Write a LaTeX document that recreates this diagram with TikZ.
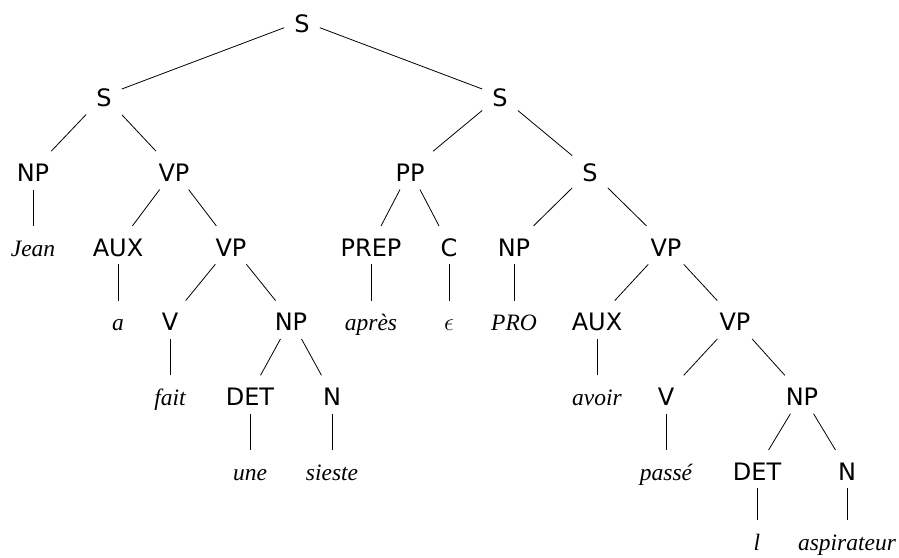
\documentclass[tikz,border=0pt]{standalone}
\usepackage{fontspec}
\setmainfont{Liberation Serif}
\newfontfamily\labfont{DejaVu Sans}
\begin{document}
\begin{tikzpicture}[x=1pt,y=-1pt,
  tn/.style={anchor=base, inner xsep=10pt, inner ysep=2pt, text height=28pt, text depth=6pt},
  cat/.style={tn, font=\labfont\fontsize{24}{28}\selectfont},
  word/.style={tn, font=\itshape\fontsize{23.5}{28}\selectfont},
  edge/.style={line width=0.8pt}]
\useasboundingbox (0,0) rectangle (899,557);
% level 0
\node[cat] (s0) at (302,32) {S};
% level 1
\node[cat] (s1) at (104,106.7) {S};
\node[cat] (s2) at (500,106.7) {S};
% level 2
\node[cat] (np1) at (33,181.4) {NP};
\node[cat] (vp1) at (174,181.4) {VP};
\node[cat] (pp) at (410,181.4) {PP};
\node[cat] (s3) at (590,181.4) {S};
% level 3
\node[word] (jean) at (33,256.1) {Jean};
\node[cat] (aux1) at (118,256.1) {AUX};
\node[cat] (vp2) at (231,256.1) {VP};
\node[cat] (prep) at (371,256.1) {PREP};
\node[cat] (c) at (449,256.1) {C};
\node[cat] (np3) at (514,256.1) {NP};
\node[cat] (vp3) at (666,256.1) {VP};
% level 4
\node[word] (a) at (118,330.8) {a};
\node[cat] (v1) at (170,330.8) {V};
\node[cat] (np2) at (291,330.8) {NP};
\node[word] (apres) at (371,330.8) {après};
\node[tn, font=\fontsize{23}{28}\selectfont] (eps) at (449,330.8) {$\epsilon$};
\node[word] (pro) at (514,330.8) {PRO};
\node[cat] (aux2) at (597,330.8) {AUX};
\node[cat] (vp4) at (735,330.8) {VP};
% level 5
\node[word] (fait) at (170,405.5) {fait};
\node[cat] (det1) at (250,405.5) {DET};
\node[cat] (n1) at (332,405.5) {N};
\node[word] (avoir) at (597,405.5) {avoir};
\node[cat] (v2) at (666,405.5) {V};
\node[cat] (np4) at (802,405.5) {NP};
% level 6
\node[word] (une) at (250,480.2) {une};
\node[word] (sieste) at (332,480.2) {sieste};
\node[word] (passe) at (666,480.2) {passé};
\node[cat] (det2) at (757,480.2) {DET};
\node[cat] (n2) at (847,480.2) {N};
% level 7
\node[word] (l) at (757,550.5) {l};
\node[word] (asp) at (847,550.5) {aspirateur};
% edges
\draw[edge] (s0) -- (s1);
\draw[edge] (s0) -- (s2);
\draw[edge] (s1) -- (np1);
\draw[edge] (s1) -- (vp1);
\draw[edge] (np1) -- (jean);
\draw[edge] (vp1) -- (aux1);
\draw[edge] (vp1) -- (vp2);
\draw[edge] (aux1) -- (a);
\draw[edge] (vp2) -- (v1);
\draw[edge] (vp2) -- (np2);
\draw[edge] (v1) -- (fait);
\draw[edge] (np2) -- (det1);
\draw[edge] (np2) -- (n1);
\draw[edge] (det1) -- (une);
\draw[edge] (n1) -- (sieste);
\draw[edge] (s2) -- (pp);
\draw[edge] (s2) -- (s3);
\draw[edge] (pp) -- (prep);
\draw[edge] (pp) -- (c);
\draw[edge] (prep) -- (apres);
\draw[edge] (c) -- (eps);
\draw[edge] (s3) -- (np3);
\draw[edge] (s3) -- (vp3);
\draw[edge] (np3) -- (pro);
\draw[edge] (vp3) -- (aux2);
\draw[edge] (vp3) -- (vp4);
\draw[edge] (aux2) -- (avoir);
\draw[edge] (vp4) -- (v2);
\draw[edge] (vp4) -- (np4);
\draw[edge] (v2) -- (passe);
\draw[edge] (np4) -- (det2);
\draw[edge] (np4) -- (n2);
\draw[edge] (det2) -- (l);
\draw[edge] (n2) -- (asp);
\end{tikzpicture}
\end{document}
